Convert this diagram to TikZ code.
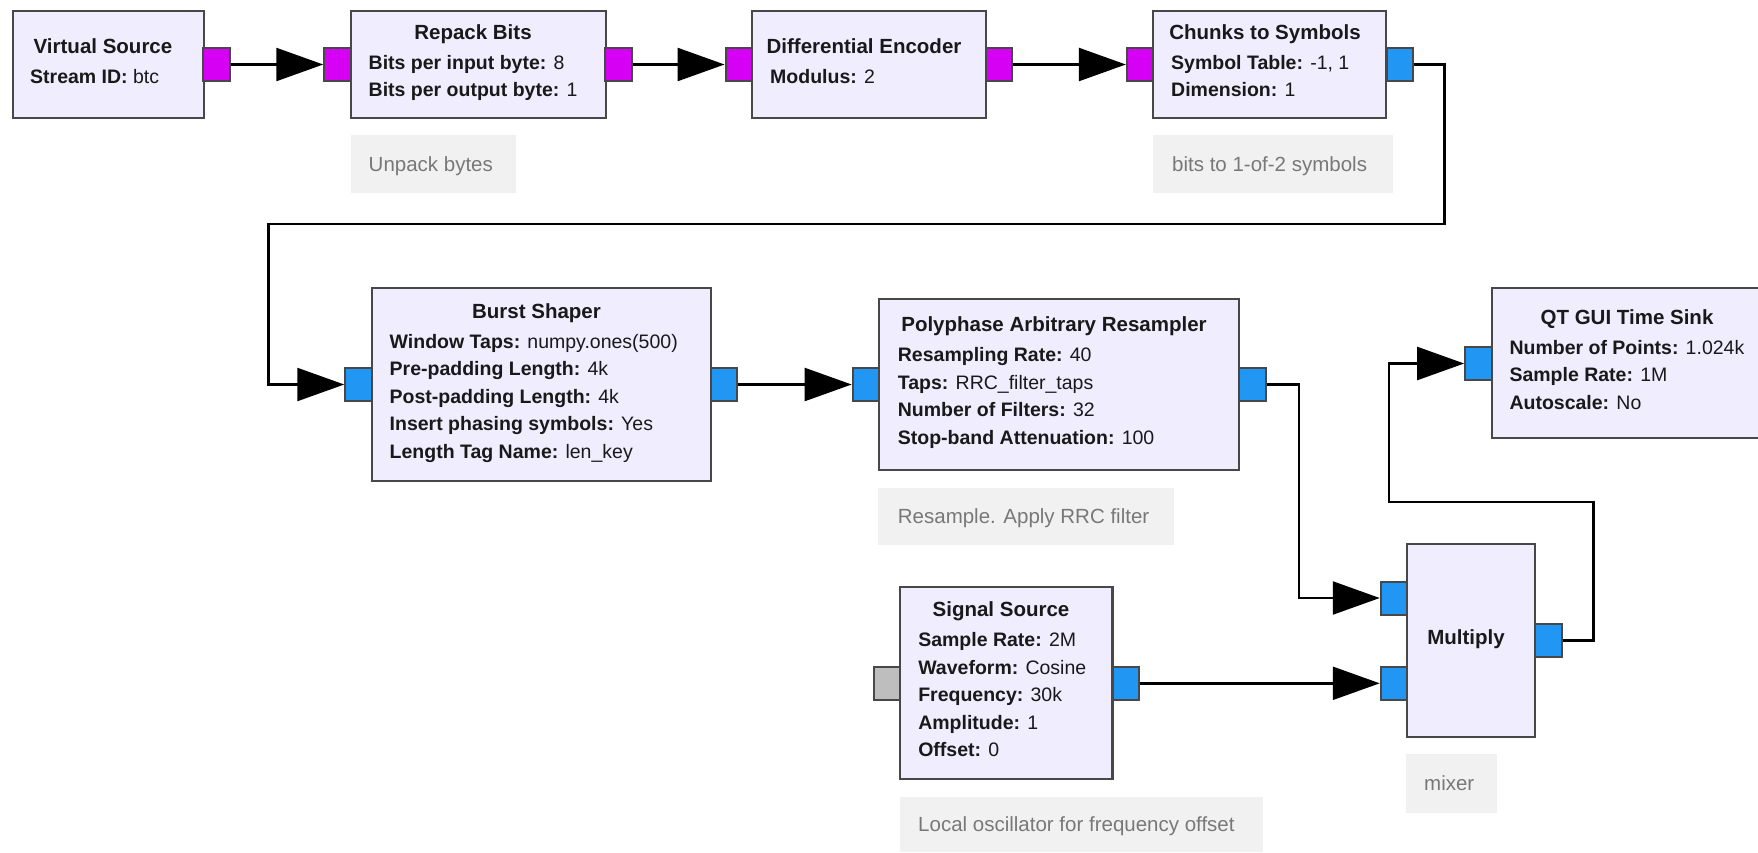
\documentclass[tikz,border=0pt]{standalone}
\usepackage{fontspec}
\setmainfont{Liberation Sans}
\usetikzlibrary{arrows.meta}
\definecolor{blkfill}{RGB}{240,237,254}
\definecolor{bord}{RGB}{72,72,72}
\definecolor{magport}{RGB}{214,0,245}
\definecolor{blueport}{RGB}{33,150,243}
\definecolor{grayport}{RGB}{190,190,190}
\definecolor{cmtfill}{RGB}{241,241,241}
\definecolor{cmttext}{RGB}{120,120,120}
\definecolor{txt}{RGB}{25,25,25}
\begin{document}
\begin{tikzpicture}[x=1pt,y=-1pt,
  block/.style={draw=bord,fill=blkfill,line width=2.2pt,rectangle,inner sep=0pt},
  port/.style={draw=bord,line width=2pt,rectangle,inner sep=0pt,minimum width=26.5pt,minimum height=33pt},
  ttl/.style={anchor=base,inner sep=0pt,text=txt,font=\fontsize{20.5}{24}\selectfont\bfseries},
  prm/.style={anchor=base west,inner sep=0pt,text=txt,font=\fontsize{19.5}{24}\selectfont},
  cmt/.style={fill=cmtfill,rectangle,inner sep=0pt},
  cmttxt/.style={anchor=base west,inner sep=0pt,text=cmttext,font=\fontsize{20.5}{24}\selectfont},
  wire/.style={draw=black,line width=2.4pt,-{Triangle[length=47pt,width=33pt]}}
]
\useasboundingbox (0,0) rectangle (1758,852);
\clip (0,0) rectangle (1758,852);
\fill[white] (0,0) rectangle (1758,852);

% ---------- blocks ----------
\node[block,minimum width=191pt,minimum height=107pt] (vs) at (108.1,64.5) {};
\node[block,minimum width=254.6pt,minimum height=107pt] (rp) at (478.3,64.5) {};
\node[block,minimum width=233.5pt,minimum height=107pt] (de) at (868.95,64.5) {};
\node[block,minimum width=233.1pt,minimum height=107pt] (ch) at (1269.75,64.5) {};
\node[block,minimum width=339.1pt,minimum height=192.4pt] (bs) at (541.45,384.5) {};
\node[block,minimum width=359.7pt,minimum height=170.7pt] (pp) at (1059.15,384.65) {};
\node[block,minimum width=278.3pt,minimum height=150pt] (qt) at (1630.85,363.3) {};
\node[block,minimum width=127.7pt,minimum height=192.7pt] (mu) at (1471.15,640.35) {};
\node[block,minimum width=212.7pt,minimum height=192.6pt] (ss) at (1006.15,683) {};

% ---------- ports ----------
\node[port,fill=magport] (vs-o) at (216.6,64.5) {};
\node[port,fill=magport] (rp-i) at (337.5,64.5) {};
\node[port,fill=magport] (rp-o) at (618.7,64.5) {};
\node[port,fill=magport] (de-i) at (738.8,64.5) {};
\node[port,fill=magport] (de-o) at (999.1,64.5) {};
\node[port,fill=magport] (ch-i) at (1140.1,64.5) {};
\node[port,fill=blueport] (ch-o) at (1400,64.5) {};
\node[port,fill=blueport] (bs-i) at (358.5,384.5) {};
\node[port,fill=blueport] (bs-o) at (724.2,384.5) {};
\node[port,fill=blueport] (pp-i) at (865.9,384.5) {};
\node[port,fill=blueport] (pp-o) at (1252.4,384.5) {};
\node[port,fill=blueport] (qt-i) at (1478.4,363.5) {};
\node[port,fill=blueport] (mu-i1) at (1394,598) {};
\node[port,fill=blueport] (mu-i2) at (1394,683.3) {};
\node[port,fill=blueport] (mu-o) at (1548.4,640.5) {};
\node[port,fill=grayport] (ss-i) at (886.8,683.3) {};
\node[port,fill=blueport] (ss-o) at (1125.8,683.3) {};

% ---------- block texts ----------
\node[ttl] (vs-t) at (103,53) {Virtual Source};
\node[prm] (vs-p1) at (30,83) {\textbf{Stream ID:} btc};

\node[ttl] (rp-t) at (473,39.25) {Repack Bits};
\node[prm] (rp-p1) at (368.5,69.25) {\textbf{Bits per input byte:} 8};
\node[prm] (rp-p2) at (368.5,96.75) {\textbf{Bits per output byte:} 1};

\node[ttl] (de-t) at (864,53) {Differential Encoder};
\node[prm] (de-p1) at (770,83) {\textbf{Modulus:} 2};

\node[ttl] (ch-t) at (1265,39.25) {Chunks to Symbols};
\node[prm] (ch-p1) at (1171,69.25) {\textbf{Symbol Table:} -1, 1};
\node[prm] (ch-p2) at (1171,96.75) {\textbf{Dimension:} 1};

\node[ttl] (bs-t) at (536.5,318) {Burst Shaper};
\node[prm] (bs-p1) at (389.5,348) {\textbf{Window Taps:} numpy.ones(500)};
\node[prm] (bs-p2) at (389.5,375.5) {\textbf{Pre-padding Length:} 4k};
\node[prm] (bs-p3) at (389.5,403) {\textbf{Post-padding Length:} 4k};
\node[prm] (bs-p4) at (389.5,430.5) {\textbf{Insert phasing symbols:} Yes};
\node[prm] (bs-p5) at (389.5,458) {\textbf{Length Tag Name:} len\_key};

\node[ttl] (pp-t) at (1054,331.9) {Polyphase Arbitrary Resampler};
\node[prm] (pp-p1) at (897.7,361.9) {\textbf{Resampling Rate:} 40};
\node[prm] (pp-p2) at (897.7,389.4) {\textbf{Taps:} RRC\_filter\_taps};
\node[prm] (pp-p3) at (897.7,416.9) {\textbf{Number of Filters:} 32};
\node[prm] (pp-p4) at (897.7,444.4) {\textbf{Stop-band Attenuation:} 100};

\node[ttl] (qt-t) at (1627,324.3) {QT GUI Time Sink};
\node[prm] (qt-p1) at (1509.3,354.3) {\textbf{Number of Points:} 1.024k};
\node[prm] (qt-p2) at (1509.3,381.8) {\textbf{Sample Rate:} 1M};
\node[prm] (qt-p3) at (1509.3,409.3) {\textbf{Autoscale:} No};

\node[ttl] (mu-t) at (1466,644) {Multiply};

\node[ttl] (ss-t) at (1001,616.5) {Signal Source};
\node[prm] (ss-p1) at (918.1,646.5) {\textbf{Sample Rate:} 2M};
\node[prm] (ss-p2) at (918.1,674) {\textbf{Waveform:} Cosine};
\node[prm] (ss-p3) at (918.1,701.5) {\textbf{Frequency:} 30k};
\node[prm] (ss-p4) at (918.1,729) {\textbf{Amplitude:} 1};
\node[prm] (ss-p5) at (918.1,756.5) {\textbf{Offset:} 0};

% ---------- comments ----------
\node[cmt,minimum width=164.5pt,minimum height=58.3pt] (cu) at (433.25,164.15) {};
\node[cmttxt] (cu-t) at (368.5,171) {Unpack bytes};
\node[cmt,minimum width=240pt,minimum height=58.3pt] (cb) at (1273,164.15) {};
\node[cmttxt] (cb-t) at (1172,171) {bits to 1-of-2 symbols};
\node[cmt,minimum width=295.8pt,minimum height=56.7pt] (cr) at (1026.1,516.65) {};
\node[cmttxt] (cr-t) at (897.7,523.5) {Resample. Apply RRC filter};
\node[cmt,minimum width=363.5pt,minimum height=55pt] (cl) at (1081.55,824.2) {};
\node[cmttxt] (cl-t) at (918,831) {Local oscillator for frequency offset};
\node[cmt,minimum width=90.7pt,minimum height=58.4pt] (cm) at (1451.35,783.5) {};
\node[cmttxt] (cm-t) at (1424,790.5) {mixer};

% ---------- connectors ----------
\coordinate (w1a) at (1444.4,224);
\coordinate (w1b) at (268.6,224);
\coordinate (w2) at (1299,598);
\coordinate (w3a) at (1593.3,501.7);
\coordinate (w3b) at (1389,501.7);

\draw[wire] (vs-o.east) -- (rp-i.west);
\draw[wire] (rp-o.east) -- (de-i.west);
\draw[wire] (de-o.east) -- (ch-i.west);
\draw[wire] (ch-o.east) -| (w1a) -- (w1b) |- (bs-i.west);
\draw[wire] (bs-o.east) -- (pp-i.west);
\draw[wire] (pp-o.east) -| (w2) -- (mu-i1.west);
\draw[wire] (ss-o.east) -- (mu-i2.west);
\draw[wire] (mu-o.east) -| (w3a) -- (w3b) |- (qt-i.west);
\end{tikzpicture}
\end{document}
